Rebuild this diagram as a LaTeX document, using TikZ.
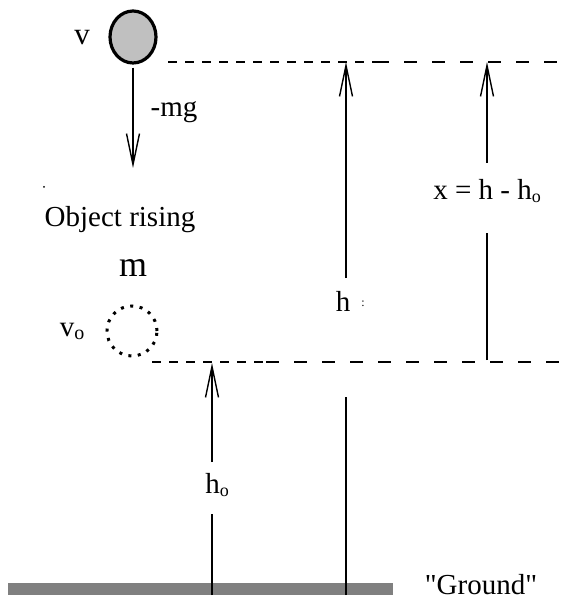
\documentclass[tikz,border=0pt]{standalone}
\usepackage{fontspec}
\setmainfont{Liberation Serif}
\newfontfamily\rawserif{Liberation Serif}[Ligatures=TeXOff]
\usetikzlibrary{arrows.meta,shapes.geometric}
\definecolor{ballgray}{RGB}{192,192,192}
\definecolor{groundgray}{RGB}{128,128,128}
\begin{document}
\begin{tikzpicture}[x=1pt,y=-1pt,
  lbl/.style={inner sep=0pt, font=\fontsize{29}{32}\selectfont},
  thickdash/.style={line width=2.8pt, dash pattern=on 9pt off 8pt},
  thindash/.style={line width=1.3pt, dash pattern=on 13pt off 15pt},
  plainline/.style={line width=1.4pt},
  uparrow/.style={line width=1.4pt, -{Straight Barb[length=31pt,width=13pt,line width=1.4pt]}},
]
\useasboundingbox (0,0) rectangle (568,601);
% falling ball at top
\node (ball) [draw, line width=3.2pt, fill=ballgray, ellipse, minimum width=46pt, minimum height=52pt, inner sep=0pt] at (133,37) {};
\node[lbl, font=\fontsize{31}{32}\selectfont] (vlab) at (82,38) {v};
\coordinate (mgtip) at (133,168);
\draw[uparrow, shorten <=3pt] (ball.south) -- (mgtip);
\node[lbl] (mglab) at (174,112) {-mg};
\fill (44,187) circle (1pt);
\node[lbl] (rising) at (120,220) {Object rising};
\node[lbl, font=\fontsize{36}{38}\selectfont] (mlab) at (133,268) {m};
% dotted ball
\node (ring) [draw, circle, dash pattern=on 3pt off 6.5pt, line width=3pt, minimum size=50pt, inner sep=0pt] at (132,331) {};
\node[lbl] (volab) at (72,331) {v\raisebox{-3pt}{\fontsize{20}{20}\selectfont o}};
% dashed levels
\coordinate (t0) at (168,62);
\coordinate (t1) at (376,62);
\coordinate (t2) at (568,62);
\draw[thickdash] (t0) -- (t1);
\draw[thindash] (t1) -- (t2);
\coordinate (l0) at (152,362);
\coordinate (l1) at (266,362);
\coordinate (l2) at (568,362);
\draw[thickdash] (l0) -- (l1);
\draw[thindash] (l1) -- (l2);
% ground
\node (ground) [fill=groundgray, minimum width=385pt, minimum height=12pt, inner sep=0pt] at (200,589) {};
\node[lbl] (gtxt) at (481,585) {\rawserif "Ground"};
% h arrow
\coordinate (hb) at (346,595);
\coordinate (hg1) at (346,397);
\coordinate (hg2) at (346,278);
\coordinate (ht) at (346,62);
\draw[plainline] (hb) -- (hg1);
\draw[uparrow] (hg2) -- (ht);
\node[lbl] (hlab) at (343,301) {h};
\node[lbl, font=\fontsize{12}{12}\selectfont] (hcolon) at (363,304) {:};
% h0 arrow
\coordinate (h0b) at (212,595);
\coordinate (h0g1) at (212,514);
\coordinate (h0g2) at (212,462);
\coordinate (h0t) at (212,363);
\draw[plainline] (h0b) -- (h0g1);
\draw[uparrow] (h0g2) -- (h0t);
\node[lbl] (h0lab) at (217,485) {h\raisebox{-3pt}{\fontsize{18}{20}\selectfont o}};
% x arrow
\coordinate (xb) at (487,360);
\coordinate (xg1) at (487,233);
\coordinate (xg2) at (487,163);
\coordinate (xt) at (487,62);
\draw[plainline] (xb) -- (xg1);
\draw[uparrow] (xg2) -- (xt);
\node[lbl] (xlab) at (487,191) {x = h - h\raisebox{-3pt}{\fontsize{18}{20}\selectfont o}};
\end{tikzpicture}
\end{document}
